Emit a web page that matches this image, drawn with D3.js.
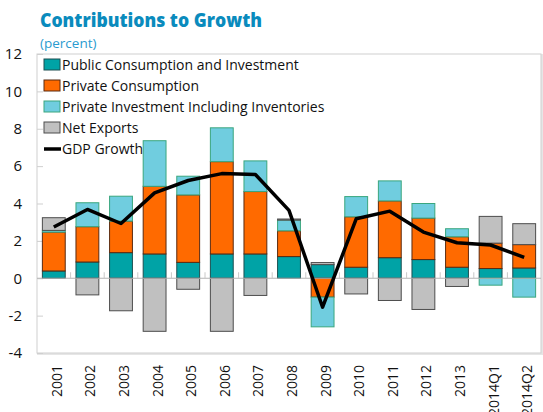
<!DOCTYPE html>
<html>
<head>
<meta charset="utf-8">
<script src="https://cdn.jsdelivr.net/npm/d3@7"></script>
<style>
  body { margin: 0; background: #fff; }
  text { font-family: "Open Sans", sans-serif; }
</style>
</head>
<body>
<div id="chart"></div>
<script>
// categories and series values (percent)
var years = ["2001", "2002", "2003", "2004", "2005", "2006", "2007", "2008", "2009", "2010", "2011", "2012", "2013", "2014Q1", "2014Q2"];
var publicCI = [0.39, 0.87, 1.37, 1.30, 0.85, 1.30, 1.30, 1.16, 0.73, 0.59, 1.10, 1.00, 0.59, 0.52, 0.55];
var privateCons = [2.08, 1.89, 1.69, 3.62, 3.61, 4.94, 3.34, 1.38, -1.01, 2.70, 3.04, 2.22, 1.63, 1.36, 1.25];
var privateInv = [0.09, 1.28, 1.33, 2.44, 1.00, 1.81, 1.64, 0.57, -1.59, 1.08, 1.07, 0.78, 0.43, -0.37, -1.01];
var netExports = [0.68, -0.89, -1.74, -2.84, -0.59, -2.84, -0.92, 0.06, 0.11, -0.84, -1.19, -1.67, -0.44, 1.43, 1.12];
var gdpGrowth = [2.74, 3.68, 2.93, 4.57, 5.23, 5.60, 5.55, 3.63, -1.55, 3.18, 3.59, 2.47, 1.90, 1.78, 1.12];
var yTicks = [-4, -2, 0, 2, 4, 6, 8, 10, 12];

var keys = ["pub", "cons", "inv", "net"];
var names = ["Public Consumption and Investment", "Private Consumption", "Private Investment Including Inventories", "Net Exports"];
var fills = ["#00a3a6", "#ff6a00", "#70cddf", "#c0c0c0"];
var strokes = ["#1d4f50", "#5a2a10", "#3aa67e", "#4d4d4d"];

var W = 543, H = 412;
var plot = { left: 37, right: 541, top: 54, bottom: 353 };

var data = years.map(function(y, i) {
        return { year: y, pub: publicCI[i], cons: privateCons[i], inv: privateInv[i], net: netExports[i], gdp: gdpGrowth[i] };
});

var svg = d3.select('#chart').append('svg')
        .attr('width', W)
        .attr('height', H);

var x = d3.scaleBand()
        .domain(years)
        .range([plot.left, plot.right])
        .paddingInner(0.32)
        .paddingOuter(0.16);

var y = d3.scaleLinear()
        .domain([-4, 12])
        .range([plot.bottom, plot.top]);

// title
svg.append('text')
        .attr('x', 40).attr('y', 27)
        .style('font-size', '20px').style('font-weight', '800')
        .attr('textLength', 222).attr('lengthAdjust', 'spacingAndGlyphs')
        .attr('fill', '#0a8bbd')
        .text('Contributions to Growth');
svg.append('text')
        .attr('x', 40).attr('y', 48)
        .style('font-size', '13.5px')
        .attr('fill', '#2a9bd0')
        .text('(percent)');

// frame
svg.append('rect')
        .attr('x', plot.left + 1).attr('y', plot.top + 1)
        .attr('width', plot.right - plot.left).attr('height', plot.bottom - plot.top)
        .attr('fill', 'none').attr('stroke', '#e6e6e6').attr('stroke-width', 2);
svg.append('rect')
        .attr('x', plot.left).attr('y', plot.top)
        .attr('width', plot.right - plot.left).attr('height', plot.bottom - plot.top)
        .attr('fill', '#fff').attr('stroke', '#cfcfcf');

// y axis (plain hyphen for negatives)
var yAxis = d3.axisLeft(y).tickValues(yTicks).tickSize(-6).tickPadding(15)
        .tickFormat(function(d) { return String(d); });
var yg = svg.append('g')
        .attr('transform', 'translate(' + plot.left + ',0)')
        .call(yAxis);
yg.select('.domain').remove();
yg.selectAll('line').attr('stroke', '#cfcfcf');
yg.selectAll('text').style('font-size', '15px').style('font-family', '"Open Sans", sans-serif').attr('fill', '#111');

// stacked bars
var stack = d3.stack().keys(keys).offset(d3.stackOffsetDiverging);
var series = stack(data);

svg.append('g').selectAll('g')
        .data(series)
        .enter().append('g')
        .attr('fill', function(d, i) { return fills[i]; })
        .attr('stroke', function(d, i) { return strokes[i]; })
        .selectAll('rect')
        .data(function(d) { return d; })
        .enter().append('rect')
        .attr('x', function(d) { return x(d.data.year); })
        .attr('y', function(d) { return y(Math.max(d[0], d[1])); })
        .attr('width', x.bandwidth())
        .attr('height', function(d) { return Math.abs(y(d[0]) - y(d[1])); })
        .attr('stroke-width', 1);

// zero line with category ticks
var zg = svg.append('g')
        .attr('transform', 'translate(0,' + y(0) + ')');
zg.append('line')
        .attr('x1', plot.left).attr('x2', plot.right)
        .attr('stroke', '#b5b5b5').attr('stroke-width', 1.2);
zg.selectAll('.sep')
        .data(years.slice(1))
        .enter().append('line')
        .attr('class', 'sep')
        .attr('x1', function(d) { return x(d) - x.step() * x.paddingInner() / 2; })
        .attr('x2', function(d) { return x(d) - x.step() * x.paddingInner() / 2; })
        .attr('y1', 0).attr('y2', -6)
        .attr('stroke', '#c8c8c8');

// x labels
var xg = svg.append('g')
        .attr('transform', 'translate(0,' + plot.bottom + ')')
        .call(d3.axisBottom(x).tickSize(0));
xg.select('.domain').remove();
xg.selectAll('text')
        .style('font-size', '14px').style('font-family', '"Open Sans", sans-serif')
        .attr('fill', '#111')
        .attr('text-anchor', 'end')
        .attr('transform', 'translate(3,12) rotate(-90)')
        .attr('x', 0).attr('y', 0).attr('dy', '0.35em');

// GDP line
var line = d3.line()
        .x(function(d) { return x(d.year) + x.bandwidth() / 2; })
        .y(function(d) { return y(d.gdp); });
svg.append('path')
        .datum(data)
        .attr('d', line)
        .attr('fill', 'none')
        .attr('stroke', '#000')
        .attr('stroke-width', 3.5)
        .attr('stroke-linejoin', 'round');

// legend
var lg = svg.append('g').attr('transform', 'translate(44,0)');
names.forEach(function(n, i) {
        var cy = 65 + i * 21;
        lg.append('rect')
                .attr('x', 0).attr('y', cy - 6)
                .attr('width', 16).attr('height', 11)
                .attr('fill', fills[i]).attr('stroke', strokes[i]);
        lg.append('text')
                .attr('x', 18).attr('y', cy).attr('dy', '0.35em')
                .style('font-size', '14px').attr('fill', '#111')
                .text(n);
});
lg.append('line')
        .attr('x1', 0).attr('x2', 17)
        .attr('y1', 149).attr('y2', 149)
        .attr('stroke', '#000').attr('stroke-width', 3.5);
lg.append('text')
        .attr('x', 18).attr('y', 149).attr('dy', '0.35em')
        .style('font-size', '14px').attr('fill', '#111')
        .text('GDP Growth');
</script>
</body>
</html>
